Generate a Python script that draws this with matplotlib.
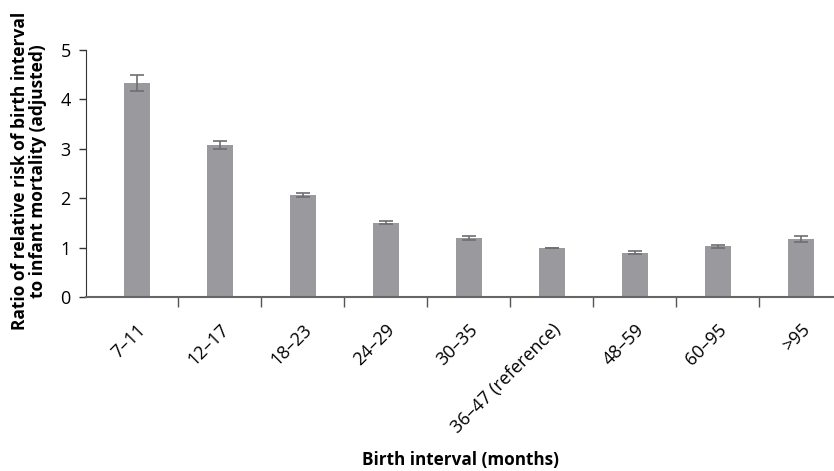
import matplotlib
matplotlib.use("Agg")
import matplotlib.pyplot as plt
import numpy as np

# Geburtsintervalle und relative Risiken
categories = ["7–11", "12–17", "18–23", "24–29", "30–35",
              "36–47 (reference)", "48–59", "60–95", ">95"]
ratio = [4.33, 3.08, 2.06, 1.50, 1.19, 1.00, 0.90, 1.03, 1.17]
err_low = [4.16, 3.00, 2.02, 1.47, 1.16, 1.00, 0.88, 1.00, 1.11]
err_high = [4.49, 3.16, 2.11, 1.53, 1.23, 1.00, 0.93, 1.06, 1.24]

plt.rcParams['font.family'] = ['Open Sans', 'DejaVu Sans']

fig = plt.figure(figsize=(8.34, 4.71), dpi=100)
ax = fig.add_axes([86 / 834, 1 - 297 / 471, 1 - 86 / 834, (297 - 50) / 471])

x = np.arange(len(categories))
lower = np.array(ratio) - np.array(err_low)
upper = np.array(err_high) - np.array(ratio)
ax.bar(x, ratio, width=0.31, color="#9a9a9e", zorder=2)
ax.errorbar(x, ratio, yerr=[lower, upper], fmt="none", ecolor="#6e6e72",
            elinewidth=1.2, capsize=5, capthick=1.2, zorder=3)

ax.set_xlim(-0.61, 8.4)
ax.set_ylim(0, 5)
ax.set_yticks(range(6))
ax.tick_params(axis="y", labelsize=13, length=5, width=1, color="#333333", pad=6)

# Kategorien-Beschriftung an den Balken, Striche zwischen den Kategorien
ax.set_xticks(x)
ax.set_xticklabels(categories, rotation=45, ha="right", rotation_mode="anchor", fontsize=13)
ax.tick_params(axis="x", which="major", length=0, pad=17)
ax.set_xticks(x[:-1] + 0.5, minor=True)
ax.tick_params(axis="x", which="minor", length=7, width=1, color="#555555", direction="out")

for side in ["top", "right"]:
    ax.spines[side].set_visible(False)
ax.spines["bottom"].set_color("#666666")
ax.spines["bottom"].set_linewidth(1.5)
ax.spines["left"].set_color("#333333")

ax.set_xlabel("Birth interval (months)", fontsize=12.3, fontweight="bold")
ax.xaxis.set_label_coords(0.5, -0.625)
ax.set_ylabel("Ratio of relative risk of birth interval\nto infant mortality (adjusted)",
              fontsize=12.5, fontweight="bold", linespacing=1.0)
ax.yaxis.set_label_coords(-0.052, 0.51)

fig.savefig("out.png", dpi=100)
